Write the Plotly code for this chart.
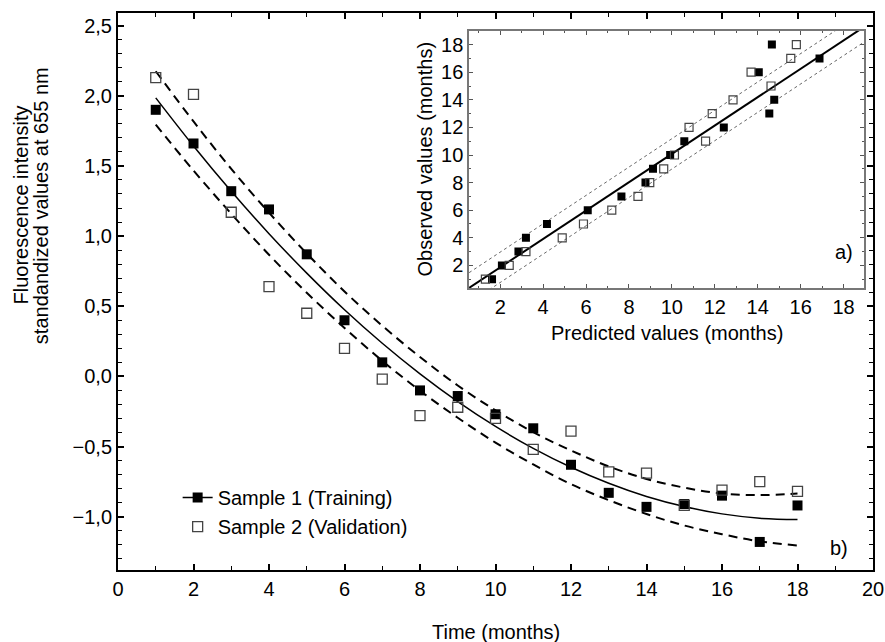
import plotly.graph_objects as go

# ---------------- data: main panel b) ----------------
months = list(range(1, 19))
train_y = [1.90, 1.66, 1.32, 1.19, 0.87, 0.40, 0.10, -0.10, -0.14, -0.27,
           -0.37, -0.63, -0.83, -0.93, -0.91, -0.85, -1.18, -0.92]
valid_y = [2.13, 2.01, 1.17, 0.64, 0.45, 0.20, -0.02, -0.28, -0.22, -0.30,
           -0.52, -0.39, -0.68, -0.69, -0.92, -0.81, -0.75, -0.82]
fit_y = [1.985, 1.642, 1.319, 1.017, 0.736, 0.475, 0.236, 0.018, -0.180, -0.357,
         -0.513, -0.648, -0.762, -0.856, -0.928, -0.980, -1.011, -1.020]
upper_y = [2.175, 1.817, 1.479, 1.167, 0.876, 0.605, 0.361, 0.138, -0.065, -0.242,
           -0.398, -0.528, -0.642, -0.731, -0.793, -0.835, -0.846, -0.835]
lower_y = [1.795, 1.467, 1.159, 0.867, 0.596, 0.345, 0.111, -0.102, -0.295, -0.472,
           -0.628, -0.768, -0.882, -0.981, -1.063, -1.125, -1.176, -1.205]

y_tickvals = [2.5, 2.0, 1.5, 1.0, 0.5, 0.0, -0.5, -1.0]
y_ticktext = ["2,5", "2,0", "1,5", "1,0", "0,5", "0,0", "\u22120,5", "\u22121,0"]
x_tickvals = [0, 2, 4, 6, 8, 10, 12, 14, 16, 18, 20]

# ---------------- data: inset a) ----------------
tr_pred = [1.62, 2.08, 2.85, 3.20, 4.18, 6.08, 7.65, 8.77, 9.12, 9.92, 10.58,
           12.42, 14.54, 14.77, 14.05, 14.66, 16.88]
tr_obs = [1, 2, 3, 4, 5, 6, 7, 8, 9, 10, 11, 12, 13, 14, 16, 18, 17]
va_pred = [1.31, 2.42, 3.20, 4.89, 5.88, 7.20, 8.42, 8.97, 9.62, 10.12, 11.57,
           10.80, 11.88, 12.85, 14.62, 13.69, 15.54, 15.80]
va_obs = [1, 2, 3, 4, 5, 6, 7, 8, 9, 10, 11, 12, 13, 14, 15, 16, 17, 18]
inset_line_x = [0.55, 18.95]
inset_fit = [0.37, 19.28]
inset_up = [1.47, 20.38]
inset_lo = [-0.73, 18.18]
inset_ticks = [2, 4, 6, 8, 10, 12, 14, 16, 18]

FONT = "Liberation Sans, Arial, Helvetica, sans-serif"
FS = 20
fig = go.Figure()

# main panel
fig.add_trace(go.Scatter(x=months, y=upper_y, mode="lines", line=dict(color="black", width=2, dash="9px,6px", shape="spline"), showlegend=False))
fig.add_trace(go.Scatter(x=months, y=lower_y, mode="lines", line=dict(color="black", width=2, dash="9px,6px", shape="spline"), showlegend=False))
fig.add_trace(go.Scatter(x=months, y=fit_y, mode="lines", line=dict(color="black", width=1.5, shape="spline"), showlegend=False))
fig.add_trace(go.Scatter(x=months, y=train_y, mode="markers",
                         marker=dict(symbol="square", size=10, color="black", line=dict(width=0)), showlegend=False))
fig.add_trace(go.Scatter(x=months, y=valid_y, mode="markers",
                         marker=dict(symbol="square-open", size=10, color="#444", line=dict(width=1.3)), showlegend=False))
# legend entries
fig.add_trace(go.Scatter(x=[None], y=[None], mode="lines+markers", name="Sample 1 (Training)",
                         line=dict(color="black", width=1.5),
                         marker=dict(symbol="square", size=10, color="black")))
fig.add_trace(go.Scatter(x=[None], y=[None], mode="markers", name="Sample 2 (Validation)",
                         marker=dict(symbol="square-open", size=10, color="#444", line=dict(width=1.3))))

# inset
fig.add_trace(go.Scatter(x=inset_line_x, y=inset_up, mode="lines", xaxis="x2", yaxis="y2",
                         line=dict(color="#666", width=1, dash="3px,3px"), showlegend=False))
fig.add_trace(go.Scatter(x=inset_line_x, y=inset_lo, mode="lines", xaxis="x2", yaxis="y2",
                         line=dict(color="#666", width=1, dash="3px,3px"), showlegend=False))
fig.add_trace(go.Scatter(x=inset_line_x, y=inset_fit, mode="lines", xaxis="x2", yaxis="y2",
                         line=dict(color="black", width=2), showlegend=False))
fig.add_trace(go.Scatter(x=tr_pred, y=tr_obs, mode="markers", xaxis="x2", yaxis="y2",
                         marker=dict(symbol="square", size=8, color="black", line=dict(width=0)), showlegend=False))
fig.add_trace(go.Scatter(x=va_pred, y=va_obs, mode="markers", xaxis="x2", yaxis="y2",
                         marker=dict(symbol="square-open", size=8, color="#444", line=dict(width=1.2)), showlegend=False))

axis_common = dict(showline=True, linecolor="black", linewidth=2, mirror="ticks", ticks="inside",
                   tickcolor="black", tickwidth=1.5, ticklen=6, showgrid=False, zeroline=False,
                   automargin=False, tickfont=dict(size=FS, color="black", family=FONT))
inset_common = dict(showline=True, linecolor="#777", linewidth=1.5, mirror="ticks", ticks="inside",
                    tickcolor="#555", tickwidth=1, ticklen=4, showgrid=False, zeroline=False,
                    automargin=False, tickmode="array", tickvals=inset_ticks,
                    minor=dict(tickmode="linear", tick0=0, dtick=1, ticks="inside", ticklen=2, tickcolor="#555"),
                    tickfont=dict(size=FS, color="black", family=FONT))

fig.update_layout(
    width=885, height=642,
    margin=dict(l=118, r=12, t=13, b=72, autoexpand=False),
    paper_bgcolor="white", plot_bgcolor="white",
    font=dict(family=FONT, size=FS, color="black"),
    xaxis=dict(range=[0, 20], tickmode="array", tickvals=x_tickvals,
               minor=dict(tickmode="linear", tick0=0, dtick=1, ticks="inside", ticklen=4, tickcolor="black", tickwidth=1.2),
               **axis_common),
    yaxis=dict(range=[-1.38, 2.59], tickmode="array", tickvals=y_tickvals, ticktext=y_ticktext,
               minor=dict(tickmode="linear", tick0=0, dtick=0.1, ticks="inside", ticklen=4, tickcolor="black", tickwidth=1.2),
               **axis_common),
    xaxis2=dict(domain=[0.465, 0.988], anchor="y2", range=[0.55, 18.95], **inset_common),
    yaxis2=dict(domain=[0.506, 0.968], anchor="x2", range=[0.35, 19.0], **inset_common),
    legend=dict(x=0.079, y=0.165, xanchor="left", yanchor="top", bgcolor="rgba(0,0,0,0)",
                font=dict(size=FS, family=FONT), tracegroupgap=0, itemwidth=30),
    showlegend=True,
)

ann = [
    dict(text="Time (months)", xref="paper", yref="paper", x=0.5, y=-0.111, showarrow=False,
         xanchor="center", yanchor="middle", font=dict(size=FS)),
    dict(text="Fluorescence intensity", xref="paper", yref="paper", x=-0.128, y=0.655, showarrow=False,
         textangle=-90, xanchor="center", yanchor="middle", font=dict(size=FS)),
    dict(text="standandized values at 655 nm", xref="paper", yref="paper", x=-0.102, y=0.655, showarrow=False,
         textangle=-90, xanchor="center", yanchor="middle", font=dict(size=FS)),
    dict(text="b)", xref="paper", yref="paper", x=0.955, y=0.04, showarrow=False,
         xanchor="center", yanchor="middle", font=dict(size=FS)),
    dict(text="a)", xref="x2 domain", yref="y2 domain", x=0.95, y=0.14, showarrow=False,
         xanchor="center", yanchor="middle", font=dict(size=FS)),
    dict(text="Predicted values (months)", xref="x2 domain", yref="paper", x=0.5, y=(570 - 333) / 557,
         showarrow=False, xanchor="center", yanchor="middle", font=dict(size=FS)),
    dict(text="Observed values (months)", xref="paper", yref="y2 domain", x=(425 - 118) / 755, y=0.5,
         showarrow=False, textangle=-90, xanchor="center", yanchor="middle", font=dict(size=FS)),
]
fig.update_layout(annotations=ann)

fig.write_html(
    "out.html",
    config={"displayModeBar": False},
    post_script="document.body.style.margin='0';document.documentElement.style.overflow='hidden';",
)
